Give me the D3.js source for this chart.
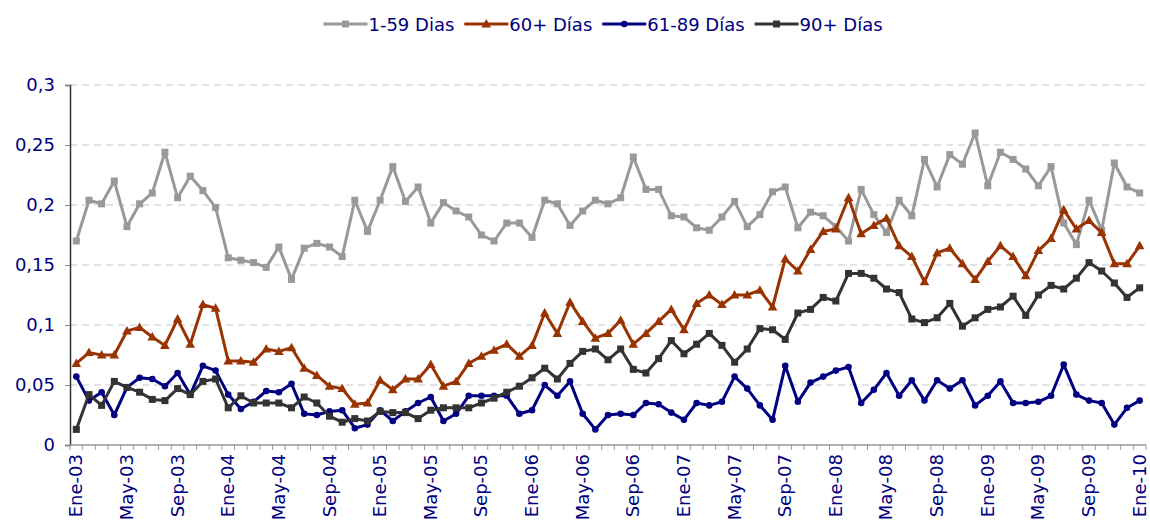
<!DOCTYPE html>
<html>
<head>
<meta charset="utf-8">
<script src="https://cdn.jsdelivr.net/npm/d3@7"></script>
<style>
  body { margin: 0; background: #fff; }
  text { font-family: "DejaVu Sans", Verdana, sans-serif; fill: #000080; }
</style>
</head>
<body>
<script>
// Chart size
const width = 1150;
const height = 525;
const plot = {left: 70, right: 1146, top: 85, bottom: 445};

// Categories (Ene-03 .. Ene-10, monthly)
const months = ["Ene","Feb","Mar","Abr","May","Jun","Jul","Ago","Sep","Oct","Nov","Dic"];
const years = ["03","04","05","06","07","08","09","10"];
const categories = [];
years.forEach(yy => months.forEach(m => { if (categories.length < 85) categories.push(m + "-" + yy); }));

const tickLabels = ["Ene-03","May-03","Sep-03","Ene-04","May-04","Sep-04","Ene-05","May-05","Sep-05",
  "Ene-06","May-06","Sep-06","Ene-07","May-07","Sep-07","Ene-08","May-08","Sep-08",
  "Ene-09","May-09","Sep-09","Ene-10"];
const yTicks = [0, 0.05, 0.1, 0.15, 0.2, 0.25, 0.3];

// Series values
const dias1_59 = [
  0.170,0.204,0.201,0.220,0.182,0.201,0.210,0.244,0.206,0.224,0.212,0.198,
  0.156,0.154,0.152,0.148,0.165,0.138,0.164,0.168,0.165,0.157,0.204,0.178,
  0.204,0.232,0.203,0.215,0.185,0.202,0.195,0.190,0.175,0.170,0.185,0.185,
  0.173,0.204,0.201,0.183,0.195,0.204,0.201,0.206,0.240,0.213,0.213,0.191,
  0.190,0.181,0.179,0.190,0.203,0.182,0.192,0.211,0.215,0.181,0.194,0.191,
  0.182,0.170,0.213,0.192,0.177,0.204,0.191,0.238,0.215,0.242,0.234,0.260,
  0.216,0.244,0.238,0.230,0.216,0.232,0.185,0.167,0.204,0.179,0.235,0.215,
  0.210];
const dias60 = [
  0.068,0.077,0.075,0.075,0.095,0.098,0.090,0.083,0.105,0.084,0.117,0.114,
  0.070,0.070,0.069,0.080,0.078,0.081,0.064,0.058,0.049,0.047,0.034,0.035,
  0.054,0.046,0.055,0.055,0.067,0.049,0.053,0.068,0.074,0.079,0.084,0.074,
  0.083,0.110,0.093,0.119,0.103,0.089,0.093,0.104,0.084,0.093,0.103,0.113,
  0.096,0.118,0.125,0.117,0.125,0.125,0.129,0.115,0.155,0.145,0.163,0.178,
  0.180,0.206,0.176,0.183,0.189,0.166,0.157,0.136,0.160,0.164,0.151,0.138,
  0.153,0.166,0.157,0.141,0.162,0.172,0.196,0.180,0.187,0.177,0.151,0.151,
  0.166];
const dias61_89 = [
  0.057,0.037,0.044,0.025,0.048,0.056,0.055,0.049,0.060,0.042,0.066,0.062,
  0.042,0.030,0.036,0.045,0.044,0.051,0.026,0.025,0.028,0.029,0.014,0.017,
  0.029,0.020,0.028,0.035,0.040,0.020,0.026,0.041,0.041,0.041,0.041,0.026,
  0.029,0.050,0.041,0.053,0.026,0.013,0.025,0.026,0.025,0.035,0.034,0.027,
  0.021,0.035,0.033,0.036,0.057,0.047,0.033,0.021,0.066,0.036,0.052,0.057,
  0.062,0.065,0.035,0.046,0.060,0.041,0.054,0.037,0.054,0.047,0.054,0.033,
  0.041,0.053,0.035,0.035,0.036,0.041,0.067,0.042,0.037,0.035,0.017,0.031,
  0.037];
const dias90 = [
  0.013,0.042,0.033,0.053,0.048,0.044,0.038,0.037,0.047,0.042,0.053,0.055,
  0.031,0.041,0.035,0.035,0.035,0.031,0.040,0.035,0.024,0.019,0.022,0.020,
  0.028,0.027,0.027,0.022,0.029,0.031,0.031,0.031,0.035,0.039,0.044,0.049,
  0.056,0.064,0.055,0.068,0.078,0.080,0.071,0.080,0.063,0.060,0.072,0.087,
  0.076,0.084,0.093,0.083,0.069,0.080,0.097,0.096,0.088,0.110,0.113,0.123,
  0.120,0.143,0.143,0.139,0.130,0.127,0.105,0.102,0.106,0.118,0.099,0.106,
  0.113,0.115,0.124,0.108,0.125,0.133,0.130,0.139,0.152,0.145,0.135,0.123,
  0.131];

const seriesNames = ["1-59 Dias", "60+ Días", "61-89 Días", "90+ Días"];
const seriesColors = ["#999999", "#993300", "#000080", "#333333"];
const seriesMarkers = ["square", "triangle", "circle", "square"];

// svg
const svg = d3.select("body").append("svg")
  .attr("width", width)
  .attr("height", height);

// Scales
const x = d3.scaleBand()
  .domain(categories)
  .range([plot.left, plot.right])
  .padding(0);
const xc = d => x(d) + x.bandwidth() / 2;

const y = d3.scaleLinear()
  .domain([0, 0.3])
  .range([plot.bottom, plot.top]);

// Gridlines
svg.append("g")
  .selectAll("line")
  .data(yTicks.filter(v => v > 0))
  .join("line")
  .attr("x1", plot.left)
  .attr("x2", plot.right)
  .attr("y1", d => y(d))
  .attr("y2", d => y(d))
  .attr("stroke", "#c8c8c8")
  .attr("stroke-width", 1)
  .attr("stroke-dasharray", "7,5");

// Y axis
const yAxis = svg.append("g")
  .attr("transform", `translate(${plot.left},0)`)
  .call(d3.axisLeft(y)
    .tickValues(yTicks)
    .tickSize(5)
    .tickPadding(10)
    .tickFormat(d => d3.format(".2~f")(d).replace(".", ",")));
yAxis.select(".domain").attr("stroke", "#333").attr("stroke-width", 1.5);
yAxis.selectAll(".tick line").attr("stroke", "#888");
yAxis.selectAll("text").style("font-size", "18px").attr("fill", "#000080");

// X axis line + boundary ticks
const xAxis = svg.append("g");
xAxis.append("line")
  .attr("x1", plot.left).attr("x2", plot.right)
  .attr("y1", plot.bottom).attr("y2", plot.bottom)
  .attr("stroke", "#999").attr("stroke-width", 1.5);
xAxis.selectAll(".bt")
  .data(categories.concat(["end"]))
  .join("line")
  .classed("bt", true)
  .attr("x1", (d, i) => plot.left + i * x.bandwidth())
  .attr("x2", (d, i) => plot.left + i * x.bandwidth())
  .attr("y1", plot.bottom)
  .attr("y2", plot.bottom + 5)
  .attr("stroke", "#999");
xAxis.selectAll(".xl")
  .data(tickLabels)
  .join("text")
  .classed("xl", true)
  .attr("transform", d => `translate(${xc(d) + 6},${plot.bottom + 9}) rotate(-90)`)
  .attr("text-anchor", "end")
  .style("font-size", "18px")
  .text(d => d);

// Marker drawing
function drawMarker(sel, type, color) {
  if (type === "square") {
    sel.append("rect")
      .attr("x", -3.5).attr("y", -3.5)
      .attr("width", 7).attr("height", 7)
      .attr("fill", color);
  } else if (type === "triangle") {
    sel.append("path")
      .attr("d", "M0,-5L4.8,3.5L-4.8,3.5Z")
      .attr("fill", color);
  } else {
    sel.append("circle").attr("r", 3.3).attr("fill", color);
  }
}

// Lines
const allSeries = [dias1_59, dias60, dias61_89, dias90];
const line = d3.line()
  .x((d, i) => xc(categories[i]))
  .y(d => y(d));

allSeries.forEach((vals, s) => {
  const g = svg.append("g").classed("series", true);
  g.append("path")
    .datum(vals)
    .attr("d", line)
    .attr("fill", "none")
    .attr("stroke", seriesColors[s])
    .attr("stroke-width", 3)
    .attr("stroke-linejoin", "round");
  g.selectAll(".pt")
    .data(vals)
    .join("g")
    .classed("pt", true)
    .attr("transform", (d, i) => `translate(${xc(categories[i])},${y(d)})`)
    .each(function() { drawMarker(d3.select(this), seriesMarkers[s], seriesColors[s]); });
});

// Legend
const legend = svg.append("g");
let lx = 0;
const items = [];
seriesNames.forEach((name, s) => {
  const it = legend.append("g");
  it.append("line")
    .attr("x1", 0).attr("x2", 44)
    .attr("y1", 0).attr("y2", 0)
    .attr("stroke", seriesColors[s]).attr("stroke-width", 3);
  const m = it.append("g").attr("transform", "translate(22,0)");
  drawMarker(m, seriesMarkers[s], seriesColors[s]);
  const t = it.append("text")
    .attr("x", 45).attr("y", 6.5)
    .style("font-size", "18px")
    .text(name);
  const w = 45 + t.node().getComputedTextLength();
  it.attr("transform", `translate(${lx},0)`);
  lx += w + 10;
});
lx -= 10;
legend.attr("transform", `translate(${603 - lx / 2},24)`);
</script>
</body>
</html>
